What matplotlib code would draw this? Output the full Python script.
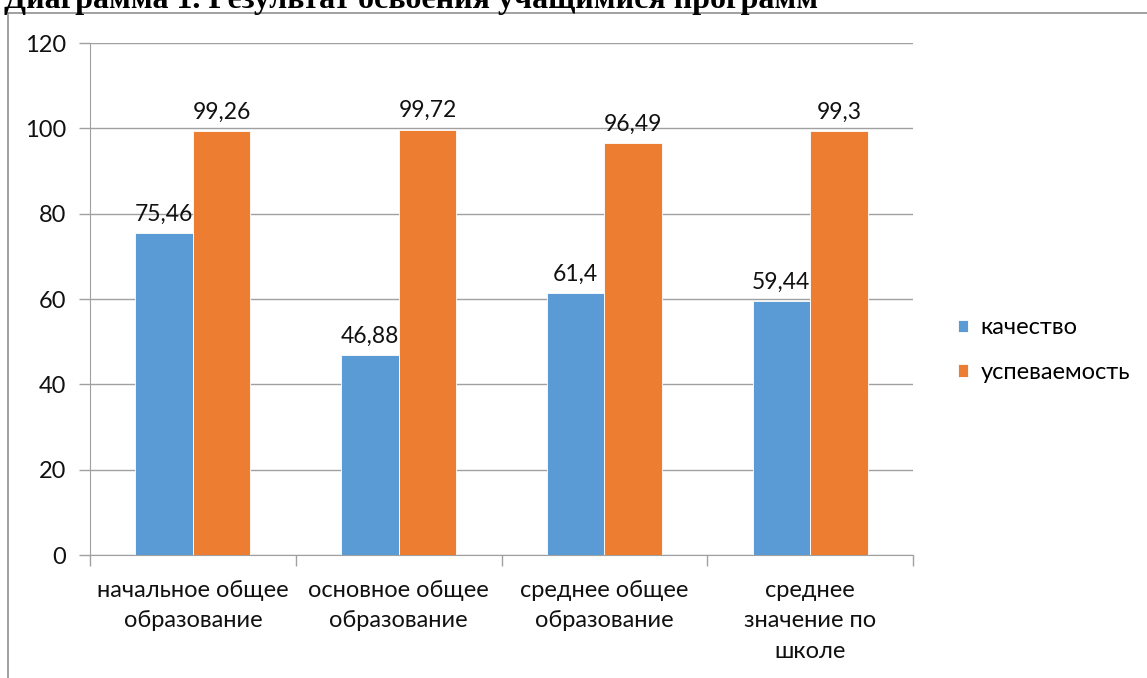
import matplotlib.pyplot as plt
import numpy as np
from matplotlib.lines import Line2D

categories = ['начальное общее\nобразование', 'основное общее\nобразование',
              'среднее общее\nобразование', 'среднее\nзначение по\nшколе']
kachestvo = [75.46, 46.88, 61.4, 59.44]
uspevaemost = [99.26, 99.72, 96.49, 99.3]
kachestvo_labels = ['75,46', '46,88', '61,4', '59,44']
uspevaemost_labels = ['99,26', '99,72', '96,49', '99,3']
series_names = ['качество', 'успеваемость']
title = 'Диаграмма 1. Результат освоения учащимися программ'

plt.rcParams['font.family'] = ['Lato', 'DejaVu Sans']

W, H = 1147, 678
fig = plt.figure(figsize=(W / 100, H / 100), dpi=100)
ax = fig.add_axes([90 / W, 1 - 555 / H, (913 - 90) / W, (555 - 43) / H])

x = np.arange(len(categories))
w = 0.28
grey = '#a0a0a0'

b1 = ax.bar(x - w / 2, kachestvo, w, color='#5B9BD5', edgecolor='white', linewidth=0.6, zorder=3)
b2 = ax.bar(x + w / 2, uspevaemost, w, color='#ED7D31', edgecolor='white', linewidth=0.6, zorder=3)

for bars, labels in [(b1, kachestvo_labels), (b2, uspevaemost_labels)]:
    for b, lab in zip(bars, labels):
        ax.annotate(lab, (b.get_x() + b.get_width() / 2, b.get_height()),
                    xytext=(0, 6), textcoords='offset points',
                    ha='center', va='bottom', fontsize=16.5, color='#111111')

ax.set_xlim(-0.5, len(categories) - 0.5)
ax.set_ylim(0, 120)
ax.set_yticks(np.arange(0, 121, 20))
ax.grid(axis='y', color=grey, linewidth=1, zorder=0)

# major ticks on category borders, labels on minor ticks at centres
ax.set_xticks(np.arange(-0.5, len(categories), 1))
ax.set_xticklabels([])
ax.set_xticks(x, minor=True)
ax.set_xticklabels(categories, minor=True, fontsize=17, linespacing=1.55, color='#111111')
ax.tick_params(axis='x', which='major', length=8, color=grey, width=1)
ax.tick_params(axis='x', which='minor', length=0, pad=18)
ax.tick_params(axis='y', length=8, color=grey, width=1, labelsize=17, pad=9,
               labelcolor='#111111')

for s in ['top', 'right']:
    ax.spines[s].set_visible(False)
ax.spines['left'].set_color(grey)
ax.spines['bottom'].set_color(grey)

ax.legend([b1, b2], series_names, loc='center left', bbox_to_anchor=(1.043, 0.4),
          frameon=False, fontsize=17, handlelength=0.45, handleheight=0.45,
          handletextpad=0.5, labelspacing=1.0, borderaxespad=0)

# outer frame of the chart area
fx0, fy0 = 8 / W, 1 - 13 / H
fig.add_artist(Line2D([fx0, 1], [fy0, fy0], color='#909090', linewidth=1.2))
fig.add_artist(Line2D([fx0, fx0], [0, fy0], color='#909090', linewidth=1.2))

fig.text(4 / W, 1 - 8 / H, title, family='Liberation Serif', fontweight='bold',
         fontsize=23, va='baseline', ha='left')

fig.savefig('out.png', dpi=100)
